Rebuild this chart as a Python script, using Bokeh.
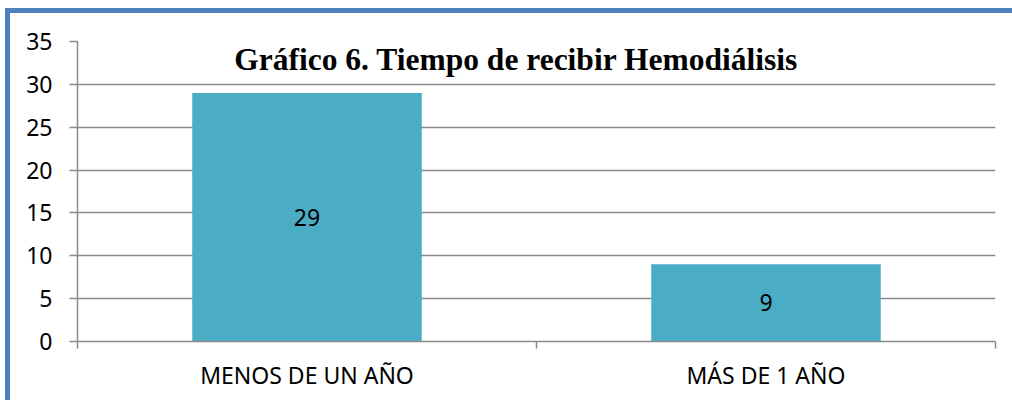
from bokeh.plotting import figure
from bokeh.models import ColumnDataSource, FixedTicker, Label, Range1d
from bokeh.core.properties import value
from bokeh.embed import file_html
from bokeh.resources import INLINE

categories = ["MENOS DE UN AÑO", "MÁS DE 1 AÑO"]
counts = [29, 9]
y_ticks = [0, 5, 10, 15, 20, 25, 30, 35]
title_text = "Gráfico 6. Tiempo de recibir Hemodiálisis"

BAR = "#4BACC6"
GRID = "#8a8a8a"
BORDER = "#4F81BD"
LABEL_FONT = "Noto Sans"

xs = [i + 0.5 for i in range(len(categories))]
src = ColumnDataSource(dict(
    x=xs,
    top=counts,
    mid=[c / 2 for c in counts],
    lbl=[str(c) for c in counts],
))

p = figure(width=1007, height=392, output_backend="svg", toolbar_location=None,
           x_range=Range1d(0, len(categories)), y_range=Range1d(0, 35),
           min_border_left=67, min_border_right=22, min_border_top=28, min_border_bottom=64)
p.styles = {"border-top": f"5px solid {BORDER}", "border-left": f"5px solid {BORDER}",
            "margin-top": "8px", "margin-left": "5px"}
p.outline_line_color = None
p.background_fill_color = "white"

p.vbar(x="x", top="top", width=0.5, source=src, fill_color=BAR, line_color=None)
p.text(x="x", y="mid", text="lbl", source=src, text_align="center", text_baseline="middle",
       text_font=value(LABEL_FONT), text_font_size="23px", text_color="black")

# axes
p.yaxis.ticker = FixedTicker(ticks=y_ticks)
p.yaxis.major_tick_out = 8
p.yaxis.major_tick_in = 0
p.yaxis.minor_tick_line_color = None
p.yaxis.axis_line_color = GRID
p.yaxis.axis_line_width = 1.5
p.yaxis.major_tick_line_color = GRID
p.yaxis.major_tick_line_width = 1.5
p.yaxis.major_label_text_font = LABEL_FONT
p.yaxis.major_label_text_font_size = "23px"
p.yaxis.major_label_text_color = "black"
p.yaxis.major_label_standoff = 17

p.xaxis.ticker = FixedTicker(ticks=xs, minor_ticks=list(range(len(categories) + 1)))
p.xaxis.major_label_overrides = {x: c for x, c in zip(xs, categories)}
p.xaxis.major_tick_line_color = None
p.xaxis.major_tick_out = 0
p.xaxis.major_tick_in = 0
p.xaxis.minor_tick_out = 7
p.xaxis.minor_tick_in = 0
p.xaxis.minor_tick_line_color = GRID
p.xaxis.minor_tick_line_width = 1.5
p.xaxis.axis_line_color = GRID
p.xaxis.axis_line_width = 1.5
p.xaxis.major_label_text_font = LABEL_FONT
p.xaxis.major_label_text_font_size = "23px"
p.xaxis.major_label_text_color = "black"
p.xaxis.major_label_standoff = 10

p.xgrid.grid_line_color = None
p.ygrid.ticker = FixedTicker(ticks=y_ticks)
p.ygrid.grid_line_color = GRID
p.ygrid.grid_line_width = 1.5

p.add_layout(Label(x=0.956, y=32.9, text=title_text, text_align="center",
                   text_baseline="alphabetic", text_font="Liberation Serif",
                   text_font_style="bold", text_font_size="31.5px", text_color="black"))

open("out.html", "w").write(file_html(p, INLINE))
